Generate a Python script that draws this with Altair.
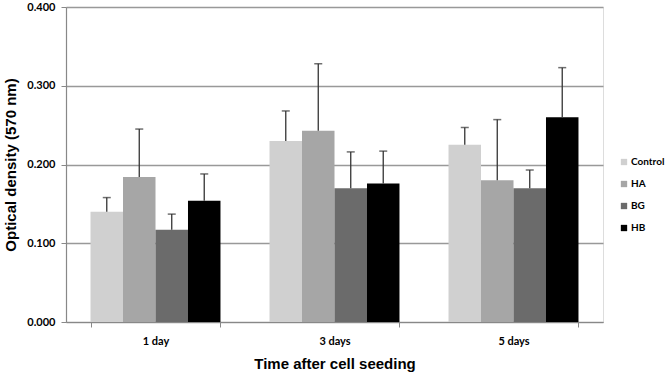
import altair as alt
import pandas as pd

days = ["1 day", "3 days", "5 days"]
groups = ["Control", "HA", "BG", "HB"]
control = [0.140, 0.230, 0.225]
control_err = [0.158, 0.268, 0.247]
ha = [0.184, 0.243, 0.180]
ha_err = [0.245, 0.328, 0.257]
bg = [0.117, 0.170, 0.170]
bg_err = [0.137, 0.216, 0.193]
hb = [0.154, 0.176, 0.260]
hb_err = [0.188, 0.217, 0.323]
colors = ["#d0d0d0", "#a6a6a6", "#6b6b6b", "#000000"]

rows = []
for g, vals, errs in [("Control", control, control_err), ("HA", ha, ha_err),
                      ("BG", bg, bg_err), ("HB", hb, hb_err)]:
    for d, v, e in zip(days, vals, errs):
        rows.append({"day": d, "group": g, "value": v, "upper": e})
df = pd.DataFrame(rows)

x_enc = alt.X("day:N", sort=days,
              scale=alt.Scale(paddingInner=0.274, paddingOuter=0.137),
              axis=alt.Axis(title="Time after cell seeding", labelAngle=0,
                            labelFont="Lato", labelFontWeight="bold", labelFontSize=11,
                            labelColor="#000", labelPadding=8,
                            titleFont="Liberation Sans", titleFontSize=15, titleFontWeight="bold",
                            titleColor="#000", titlePadding=10,
                            domainColor="#888", domainWidth=1.2, tickBand="extent",
                            tickColor="#888", tickSize=5, grid=False))
xo = alt.XOffset("group:N", sort=groups, scale=alt.Scale(paddingInner=0, paddingOuter=0))
y_scale = alt.Scale(domain=[0, 0.4], nice=False)

bars = alt.Chart(df).mark_bar().encode(
    x=x_enc,
    xOffset=xo,
    y=alt.Y("value:Q", scale=y_scale,
            axis=alt.Axis(title="Optical density (570 nm)", values=[0, 0.1, 0.2, 0.3, 0.4],
                          format=".3f", labelFont="Lato", labelFontWeight="bold",
                          labelFontSize=11, labelColor="#000", labelPadding=6,
                          titleFont="Liberation Sans", titleFontSize=15, titleFontWeight="bold",
                          titleColor="#000", titlePadding=8,
                          domainColor="#888", domainWidth=1.2, tickColor="#888", tickSize=5,
                          gridColor="#999", gridWidth=1.3)),
    color=alt.Color("group:N", sort=groups,
                    scale=alt.Scale(domain=groups, range=colors),
                    legend=alt.Legend(title=None, orient="none", legendX=553, legendY=150,
                                      padding=0,
                                      symbolType="square", symbolSize=40, symbolStrokeWidth=0,
                                      labelFont="Lato", labelFontWeight="bold", labelFontSize=10,
                                      labelColor="#000", rowPadding=12, labelOffset=2)),
)

rules = alt.Chart(df).mark_rule(color="#333", strokeWidth=1.3).encode(
    x=alt.X("day:N", sort=days), xOffset=xo,
    y=alt.Y("value:Q", scale=y_scale), y2="upper:Q")

caps = alt.Chart(df).mark_tick(color="#333", thickness=1.5, size=8, orient="horizontal").encode(
    x=alt.X("day:N", sort=days), xOffset=xo,
    y=alt.Y("upper:Q", scale=y_scale))

chart = alt.layer(bars, rules, caps).properties(
    width=537, height=315,
    autosize=alt.AutoSizeParams(type="none"),
    padding={"left": 66, "top": 7, "right": 63, "bottom": 53},
).configure_view(stroke=None).configure(background="white")

chart.save("out.html", embed_options={"renderer": "svg", "actions": False})
